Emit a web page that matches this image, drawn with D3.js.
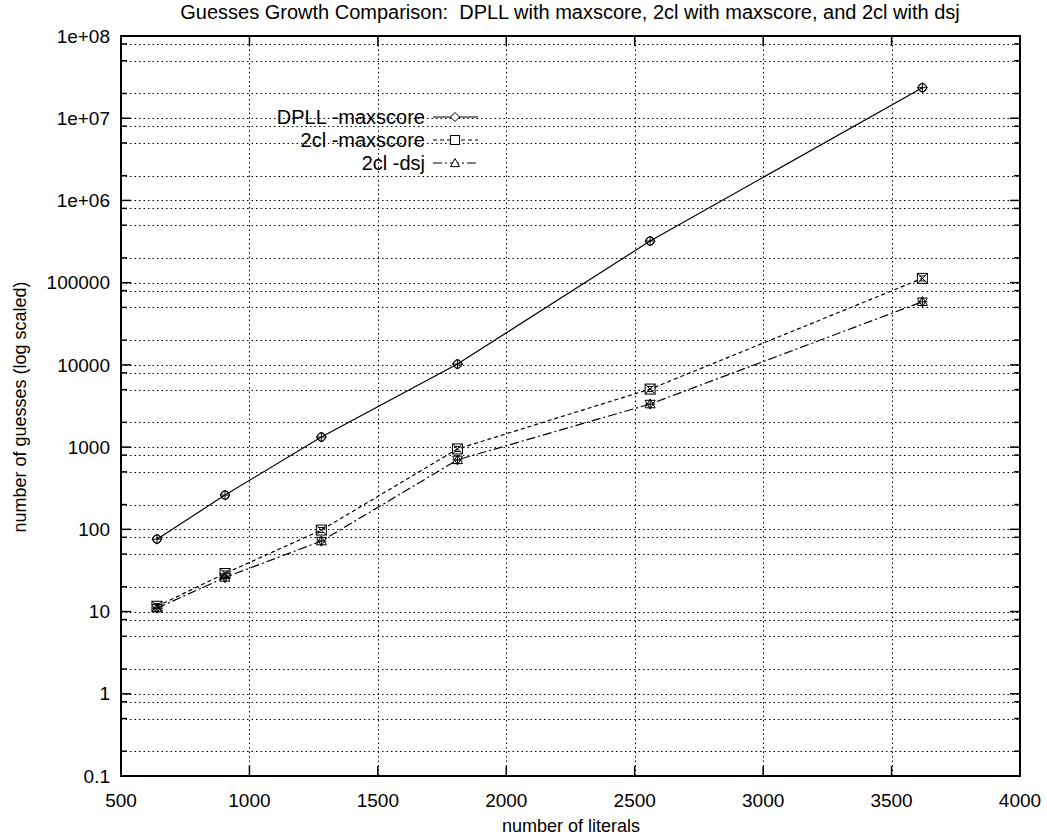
<!DOCTYPE html>
<html>
<head>
<meta charset="utf-8">
<script src="https://cdn.jsdelivr.net/npm/d3@7/dist/d3.min.js"></script>
<style>
  body { margin: 0; background: #fff; }
  svg text { font-family: "Liberation Sans", Arial, sans-serif; fill: #000; white-space: pre; }
</style>
</head>
<body>
<svg id="chart" width="1047" height="836"></svg>
<script>
// data
const literals = [640, 905, 1280, 1810, 2560, 3620];
const dpllMaxscore = [76, 261, 1325, 10230, 321000, 23500000];
const twoClMaxscore = [11.6, 29, 98, 950, 5080, 112700];
const twoClDsj = [11, 26, 72, 700, 3340, 58600];
const seriesNames = ["DPLL -maxscore", "2cl -maxscore", "2cl -dsj"];
const xTicks = [500, 1000, 1500, 2000, 2500, 3000, 3500, 4000];
const yTicks = [0.1, 1, 10, 100, 1000, 10000, 100000, 1e6, 1e7, 1e8];
const yTickLabels = ["0.1", "1", "10", "100", "1000", "10000", "100000", "1e+06", "1e+07", "1e+08"];
const minorMult = [2, 5, 8];

const svg = d3.select("#chart");
const plotL = 121, plotR = 1020, plotT = 36, plotB = 776;

const x = d3.scaleLinear().domain([500, 4000]).range([plotL, plotR]);
const y = d3.scaleLog().domain([0.1, 1e8]).range([plotB, plotT]);

const minorTicks = [];
yTicks.slice(0, -1).forEach(t => minorMult.forEach(m => minorTicks.push(t * m)));

// grid
const grid = svg.append("g")
    .attr("stroke", "#000").attr("stroke-width", 1).attr("stroke-dasharray", "1.5,3");
grid.selectAll("line.h").data(minorTicks.concat(yTicks.slice(1, -1))).join("line")
    .attr("x1", plotL).attr("x2", plotR)
    .attr("y1", d => Math.round(y(d)) + 0.5).attr("y2", d => Math.round(y(d)) + 0.5);
grid.selectAll("line.v").data(xTicks.slice(1, -1)).join("line")
    .attr("y1", plotT).attr("y2", plotB)
    .attr("x1", d => Math.round(x(d)) + 0.5).attr("x2", d => Math.round(x(d)) + 0.5);

// ticks on all four sides
const ticks = svg.append("g").attr("stroke", "#000").attr("stroke-width", 1.5);
const yTickList = yTicks.map(v => ({ v, len: 10 })).concat(minorTicks.map(v => ({ v, len: 6 })));
yTickList.forEach(t => {
    const py = y(t.v);
    ticks.append("line").attr("x1", plotL).attr("x2", plotL + t.len).attr("y1", py).attr("y2", py);
    ticks.append("line").attr("x1", plotR).attr("x2", plotR - t.len).attr("y1", py).attr("y2", py);
});
xTicks.forEach(v => {
    ticks.append("line").attr("x1", x(v)).attr("x2", x(v)).attr("y1", plotB).attr("y2", plotB - 10);
    ticks.append("line").attr("x1", x(v)).attr("x2", x(v)).attr("y1", plotT).attr("y2", plotT + 10);
});

// border
svg.append("rect")
    .attr("x", plotL).attr("y", plotT).attr("width", plotR - plotL).attr("height", plotB - plotT)
    .attr("fill", "none").attr("stroke", "#000").attr("stroke-width", 2);

// tick labels
svg.append("g").selectAll("text").data(yTicks).join("text")
    .attr("x", plotL - 11).attr("y", d => y(d)).attr("dy", "0.35em")
    .attr("text-anchor", "end").attr("font-size", 19)
    .text((d, i) => yTickLabels[i]);
svg.append("g").selectAll("text").data(xTicks).join("text")
    .attr("x", d => x(d)).attr("y", plotB + 31)
    .attr("text-anchor", "middle").attr("font-size", 19)
    .text(d => d);

// titles
svg.append("text").attr("x", 570).attr("y", 19).attr("text-anchor", "middle")
    .attr("font-size", 20)
    .text("Guesses Growth Comparison:  DPLL with maxscore, 2cl with maxscore, and 2cl with dsj");
svg.append("text").attr("x", 571).attr("y", 832).attr("text-anchor", "middle")
    .attr("font-size", 18).text("number of literals");
svg.append("text").attr("transform", "translate(26,407) rotate(-90)")
    .attr("text-anchor", "middle").attr("font-size", 18)
    .text("number of guesses (log scaled)");

// markers
const markers = [
    (g, s) => { // diamond with cross
        g.append("path").attr("d", `M0,${-s}L${s},0L0,${s}L${-s},0Z`);
        g.append("circle").attr("r", s * 0.85);
        g.append("path").attr("d", `M${-s},0H${s}M0,${-s}V${s}`);
    },
    (g, s) => { // square with x
        g.append("rect").attr("x", -s).attr("y", -s).attr("width", 2 * s).attr("height", 2 * s);
        g.append("path").attr("d", `M${-s},${-s}L${s},${s}M${s},${-s}L${-s},${s}M${-s*0.6},${-s*0.5}H${s*0.6}M${-s*0.6},${s*0.5}H${s*0.6}`);
    },
    (g, s) => { // triangles overlapped into a star
        g.append("path").attr("d", `M0,${-s}L${s},${s*0.75}L${-s},${s*0.75}Z`);
        g.append("path").attr("d", `M0,${s}L${s},${-s*0.75}L${-s},${-s*0.75}Z`);
        g.append("path").attr("d", `M${-s},0H${s}M0,${-s}V${s}`);
    }
];
const legendMarkers = [
    (g, s) => g.append("path").attr("d", `M0,${-s}L${s},0L0,${s}L${-s},0Z`),
    (g, s) => g.append("rect").attr("x", -s).attr("y", -s).attr("width", 2 * s).attr("height", 2 * s),
    (g, s) => g.append("path").attr("d", `M0,${-s}L${s},${s*0.8}L${-s},${s*0.8}Z`)
];
const dashes = [null, "4,3", "9,3,2,3"];
const allSeries = [dpllMaxscore, twoClMaxscore, twoClDsj];

const line = d3.line().x((d, i) => x(literals[i])).y(d => y(d));

allSeries.forEach((vals, k) => {
    svg.append("path").datum(vals)
        .attr("d", line).attr("fill", "none").attr("stroke", "#000")
        .attr("stroke-width", 1.2).attr("stroke-dasharray", dashes[k]);
    vals.forEach((v, i) => {
        const g = svg.append("g")
            .attr("transform", `translate(${x(literals[i])},${y(v)})`)
            .attr("fill", "none").attr("stroke", "#000").attr("stroke-width", 1);
        markers[k](g, 5);
    });
});

// legend
const legendY = [117, 140, 163];
seriesNames.forEach((name, k) => {
    const ly = legendY[k];
    svg.append("text").attr("x", 425).attr("y", ly).attr("dy", "0.35em")
        .attr("text-anchor", "end").attr("font-size", 20).text(name);
    svg.append("line").attr("x1", 433).attr("x2", 478).attr("y1", ly).attr("y2", ly)
        .attr("stroke", "#000").attr("stroke-width", 1.2).attr("stroke-dasharray", dashes[k]);
    const g = svg.append("g").attr("transform", `translate(455,${ly})`)
        .attr("fill", "#fff").attr("stroke", "#000").attr("stroke-width", 1);
    legendMarkers[k](g, 4.5);
});
</script>
</body>
</html>
